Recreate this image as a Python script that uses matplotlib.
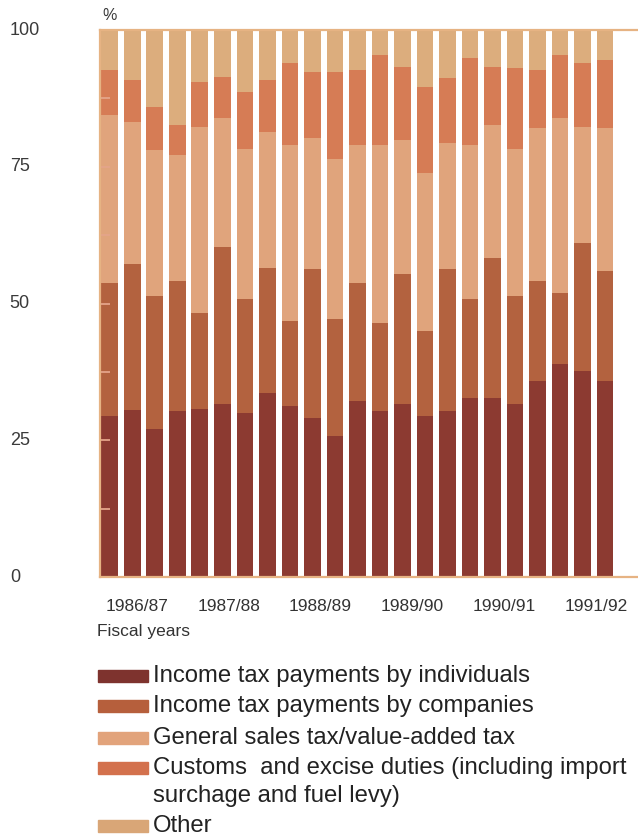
import numpy as np
import matplotlib
matplotlib.use('Agg')
import matplotlib.pyplot as plt
from matplotlib.patches import Rectangle

plt.rcParams['font.family'] = ['Liberation Sans', 'DejaVu Sans']

# Shares of tax revenue by quarter (percent)
indiv = [29.4, 30.6, 27.0, 30.3, 30.8, 31.6, 29.9, 33.6, 31.2, 29.0, 25.7, 32.1,
         30.3, 31.7, 29.4, 30.3, 32.7, 32.7, 31.7, 35.8, 38.9, 37.6, 35.8]
comp = [24.4, 26.6, 24.4, 23.8, 17.5, 28.8, 20.9, 22.9, 15.6, 27.3, 21.5, 21.7,
        16.1, 23.7, 15.6, 26.0, 18.1, 25.6, 19.7, 18.3, 13.0, 23.5, 20.2]
sales = [30.6, 25.9, 26.6, 23.0, 33.9, 23.5, 27.5, 24.8, 32.1, 23.9, 29.3, 25.1,
         32.5, 24.4, 28.9, 23.1, 28.1, 24.3, 26.9, 27.9, 32.1, 21.1, 26.0]
customs = [8.3, 7.7, 7.9, 5.5, 8.3, 7.5, 10.3, 9.5, 15.0, 12.1, 15.8, 13.8,
           16.5, 13.4, 15.6, 11.8, 16.0, 10.6, 14.7, 10.7, 11.4, 11.7, 12.5]
other = [7.3, 9.2, 14.1, 17.4, 9.5, 8.6, 11.4, 9.2, 6.1, 7.7, 7.7, 7.3,
         4.6, 6.8, 10.5, 8.8, 5.1, 6.8, 7.0, 7.3, 4.6, 6.1, 5.5]

years = ['1986/87', '1987/88', '1988/89', '1989/90', '1990/91', '1991/92']
y_labels = ['0', '25', '50', '75', '100']

series = [indiv, comp, sales, customs, other]
colors = ['#8c3a31', '#b3623f', '#e0a47c', '#d67c55', '#dcad7d']
legend_colors = ['#7e332e', '#b65f3c', '#e2a37b', '#d3714d', '#d9a677']
names = ['Income tax payments by individuals',
         'Income tax payments by companies',
         'General sales tax/value-added tax',
         'Customs  and excise duties (including import',
         'Other']

fig = plt.figure(figsize=(6.38, 8.38), dpi=100)
ax = fig.add_axes([100 / 638, 1 - 577 / 838, 537 / 638, 547 / 838])

x = np.arange(len(indiv))
bottom = np.zeros(len(x))
for vals, col in zip(series, colors):
    ax.bar(x, vals, width=0.75, bottom=bottom, color=col, linewidth=0)
    bottom += np.array(vals)

ax.set_xlim(-0.44, 23.42)
ax.set_ylim(0, 100)

axis_col = '#e6b383'
for side in ['left', 'top', 'bottom']:
    ax.spines[side].set_color(axis_col)
    ax.spines[side].set_linewidth(1.6)
ax.spines['right'].set_visible(False)

# tick marks sit inside the plot, labels drawn as text at the far left
ax.set_yticks(np.arange(0, 101, 12.5))
ax.set_yticklabels([])
ax.tick_params(axis='y', direction='in', length=7, width=1.3, color='#e4a48a')
for i, lab in enumerate(y_labels):
    ax.text(-0.168, i * 25, lab, transform=ax.get_yaxis_transform(),
            ha='left', va='center', fontsize=13, color='#3a3a3a')
ax.text(0.004, 1.012, '%', transform=ax.transAxes, ha='left', va='bottom',
        fontsize=11.5, color='#3a3a3a')

ax.set_xticks(np.arange(len(years)) * 4.08 + 1.2)
ax.set_xticklabels(years, fontsize=12.5, color='#333333')
ax.tick_params(axis='x', length=0, pad=16)

fig.text(97 / 638, 1 - 631 / 838, 'Fiscal years', ha='left', va='center',
         fontsize=12.5, color='#333333')

# legend
rows = [676, 706, 738, 768, 826]
for col, name, ry in zip(legend_colors, names, rows):
    fig.patches.append(Rectangle((98 / 638, 1 - (ry + 6) / 838), 50 / 638, 12 / 838,
                                 transform=fig.transFigure, color=col))
    fig.text(153 / 638, 1 - ry / 838, name, ha='left', va='center',
             fontsize=17.2, color='#222222')
fig.text(153 / 638, 1 - 796 / 838, 'surchage and fuel levy)', ha='left',
         va='center', fontsize=17.2, color='#222222')

fig.savefig('out.png', dpi=100)
